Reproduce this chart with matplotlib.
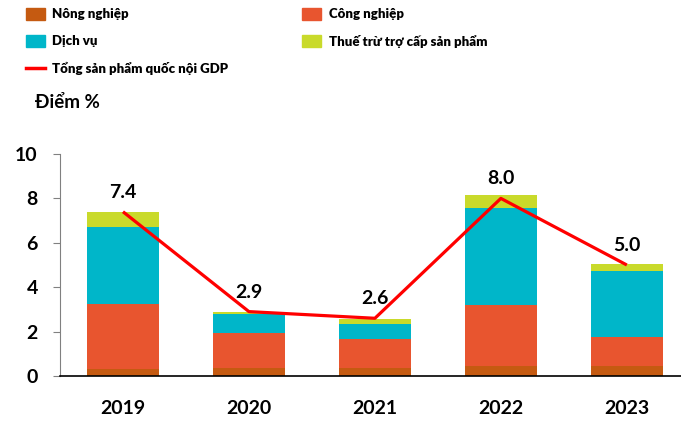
import numpy as np
import matplotlib.pyplot as plt
from matplotlib.patches import Patch
from matplotlib.lines import Line2D

plt.rcParams['font.family'] = ['Lato', 'DejaVu Sans']

## Data (percentage points contribution to GDP growth)
years = ['2019', '2020', '2021', '2022', '2023']
nong_nghiep = [0.30, 0.35, 0.35, 0.44, 0.44]
cong_nghiep = [2.94, 1.57, 1.32, 2.76, 1.33]
dich_vu = [3.47, 0.87, 0.69, 4.38, 2.96]
thue = [0.69, 0.09, 0.21, 0.56, 0.33]
gdp = [7.4, 2.9, 2.6, 8.0, 5.0]
gdp_labels = ['7.4', '2.9', '2.6', '8.0', '5.0']

## Colours
c_nong = '#C55A11'
c_cong = '#E8552F'
c_dv = '#00B6C9'
c_thue = '#C9DA2B'
c_gdp = '#FF0000'

fig = plt.figure(figsize=(6.81, 4.21), dpi=100)
ax = fig.add_axes([60/681, 45/421, 621/681, 222/421])

x = np.arange(len(years))
w = 0.57
b1 = np.array(nong_nghiep)
b2 = b1 + np.array(cong_nghiep)
b3 = b2 + np.array(dich_vu)

ax.bar(x, nong_nghiep, w, color=c_nong, linewidth=0)
ax.bar(x, cong_nghiep, w, bottom=b1, color=c_cong, linewidth=0)
ax.bar(x, dich_vu, w, bottom=b2, color=c_dv, linewidth=0)
ax.bar(x, thue, w, bottom=b3, color=c_thue, linewidth=0)

ax.plot(x, gdp, color=c_gdp, lw=2.3, zorder=5, solid_capstyle='butt')
for xi, yi, lab in zip(x, gdp, gdp_labels):
    ax.annotate(lab, (xi, yi), xytext=(0, 8), textcoords='offset points',
                ha='center', va='bottom', fontsize=14, fontweight='bold')

ax.set_xlim(-0.5, 4.43)
ax.set_ylim(0, 10)
ax.set_yticks([0, 2, 4, 6, 8, 10])
ax.set_xticks(x)
ax.set_xticklabels(years)

for lab in ax.get_xticklabels() + ax.get_yticklabels():
    lab.set_fontweight('bold')
    lab.set_fontsize(14)

ax.tick_params(axis='x', length=0, pad=17)
ax.tick_params(axis='y', length=5, color='#808080', pad=11)
ax.spines['top'].set_visible(False)
ax.spines['right'].set_visible(False)
ax.spines['left'].set_color('#808080')
ax.spines['bottom'].set_color('black')
ax.spines['bottom'].set_linewidth(1.2)

fig.text(35/681, 1 - 103/421, 'Điểm %', fontsize=13.5, fontweight='bold',
         va='center', ha='left')

## Legend
handles = [
    Patch(color=c_nong, label='Nông nghiệp'),
    Patch(color=c_dv, label='Dịch vụ'),
    Line2D([0], [0], color=c_gdp, lw=2.5, label='Tổng sản phẩm quốc nội GDP'),
    Patch(color=c_cong, label='Công nghiệp'),
    Patch(color=c_thue, label='Thuế trừ trợ cấp sản phẩm'),
]
leg = fig.legend(handles=handles, ncol=2, loc='upper left',
                 bbox_to_anchor=(14/681, 1 + 4/421), frameon=False,
                 prop={'size': 9.5, 'weight': 'heavy'},
                 handlelength=1.45, handleheight=1.0, handletextpad=0.55,
                 labelspacing=1.1, columnspacing=5.6)

fig.savefig('out.png', dpi=100)
